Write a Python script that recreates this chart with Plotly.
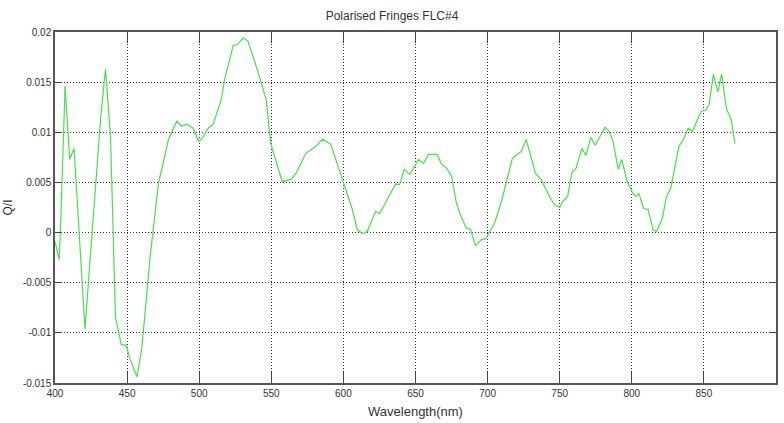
import plotly.graph_objects as go

# Polarised fringe measurement, FLC#4
wavelength_nm = [
    400.0, 402.9, 404.2, 407.0, 410.2, 413.2, 420.8, 431.6, 435.0, 438.5,
    441.9, 446.0, 449.3, 452.2, 456.9, 460.3, 466.0, 471.8, 474.5, 478.7,
    484.4, 487.9, 491.3, 495.9, 499.4, 501.7, 506.3, 509.7, 515.4, 517.7,
    523.5, 526.9, 530.4, 533.8, 539.5, 546.4, 549.6, 557.5, 563.7, 567.1,
    574.0, 580.9, 585.5, 591.2, 599.3, 606.2, 609.6, 613.1, 616.5, 622.3,
    625.2, 632.6, 636.0, 639.0, 642.2, 645.9, 649.5, 652.1, 655.6, 659.0,
    664.8, 668.2, 671.7, 675.1, 678.1, 680.8, 685.0, 688.2, 691.6, 695.8,
    698.8, 705.0, 709.6, 713.0, 717.2, 723.4, 726.8, 733.2, 737.1, 742.9,
    746.3, 750.0, 752.0, 755.5, 758.5, 761.3, 765.4, 768.2, 771.6, 774.6,
    781.5, 784.2, 787.0, 790.6, 793.0, 796.8, 800.8, 802.6, 804.9, 808.3,
    811.3, 814.7, 817.2, 821.2, 824.0, 827.0, 832.7, 836.2, 839.1, 842.1,
    848.1, 851.3, 853.6, 856.6, 859.6, 862.3, 865.7, 868.8, 871.5,
]
q_over_i = [
    -0.0009, -0.0027, 0.0020, 0.0146, 0.0073, 0.0084, -0.0096, 0.0113, 0.0163, 0.0096,
    -0.0084, -0.0112, -0.0112, -0.0127, -0.0144, -0.0114, -0.0024, 0.0050, 0.0066, 0.0093,
    0.0111, 0.0106, 0.0108, 0.0104, 0.0091, 0.0093, 0.0104, 0.0108, 0.0133, 0.0153,
    0.0186, 0.0188, 0.0194, 0.0191, 0.0166, 0.0133, 0.0089, 0.0051, 0.0053, 0.0059,
    0.0079, 0.0086, 0.0093, 0.0088, 0.0053, 0.0023, 0.0003, -0.0001, 0.0001, 0.0021,
    0.0019, 0.0038, 0.0048, 0.0048, 0.0063, 0.0058, 0.0066, 0.0073, 0.0069, 0.0078,
    0.0078, 0.0068, 0.0064, 0.0056, 0.0031, 0.0019, 0.0005, 0.0003, -0.0013, -0.0007,
    -0.0006, 0.0010, 0.0031, 0.0051, 0.0074, 0.0081, 0.0093, 0.0059, 0.0053, 0.0036,
    0.0028, 0.0025, 0.0031, 0.0036, 0.0060, 0.0064, 0.0084, 0.0077, 0.0095, 0.0087,
    0.0105, 0.0101, 0.0091, 0.0063, 0.0073, 0.0051, 0.0039, 0.0036, 0.0039, 0.0024,
    0.0023, 0.0003, 0.0001, 0.0014, 0.0036, 0.0044, 0.0086, 0.0094, 0.0104, 0.0101,
    0.0121, 0.0122, 0.0128, 0.0158, 0.0140, 0.0158, 0.0123, 0.0113, 0.0089,
]

x_ticks = [400, 450, 500, 550, 600, 650, 700, 750, 800, 850, 900]
y_ticks = [0.02, 0.015, 0.01, 0.005, 0, -0.005, -0.01, -0.015]
y_tick_labels = ["0.02", "0.015", "0.01", "0.005", "0", "-0.005", "-0.01", "-0.015"]

narrow = "Liberation Sans Narrow, Arial Narrow, Liberation Sans, sans-serif"
grid_dash = "1px,2px"

fig = go.Figure()
fig.add_trace(go.Scatter(
    x=wavelength_nm, y=q_over_i, mode="lines",
    line=dict(color="rgb(72,224,72)", width=1.2),
    showlegend=False, hoverinfo="x+y",
))

fig.update_layout(
    width=784, height=423,
    margin=dict(l=52, r=6, t=32, b=40),
    paper_bgcolor="white", plot_bgcolor="white",
    title=dict(text="Polarised Fringes FLC#4", x=0.5, xanchor="center",
               y=1 - 16 / 423, yanchor="middle",
               font=dict(family=narrow, size=12, color="#333333")),
    font=dict(family=narrow, size=10, color="#333333"),
)

fig.update_xaxes(
    range=[400, 900], tickvals=x_ticks, ticktext=[str(v) for v in x_ticks],
    ticks="inside", ticklen=11, tickwidth=1, tickcolor="#444444",
    showline=True, linecolor="#555555", linewidth=1.5, mirror="allticks",
    showgrid=True, gridcolor="#333333", griddash=grid_dash, gridwidth=1,
    zeroline=False,
    tickfont=dict(family=narrow, size=10, color="#333333"),
    title=dict(text="Wavelength(nm)", standoff=9,
               font=dict(family=narrow, size=13, color="#333333")),
)
fig.update_yaxes(
    range=[-0.015, 0.02], tickvals=y_ticks, ticktext=y_tick_labels,
    ticks="inside", ticklen=7, tickwidth=1, tickcolor="#444444",
    showline=True, linecolor="#555555", linewidth=1.5, mirror="allticks",
    showgrid=True, gridcolor="#333333", griddash=grid_dash, gridwidth=1,
    zeroline=False,
    tickfont=dict(family=narrow, size=10, color="#333333"),
    title=dict(text="Q/I", standoff=8,
               font=dict(family=narrow, size=12, color="#333333")),
)

fig.write_html("out.html")
